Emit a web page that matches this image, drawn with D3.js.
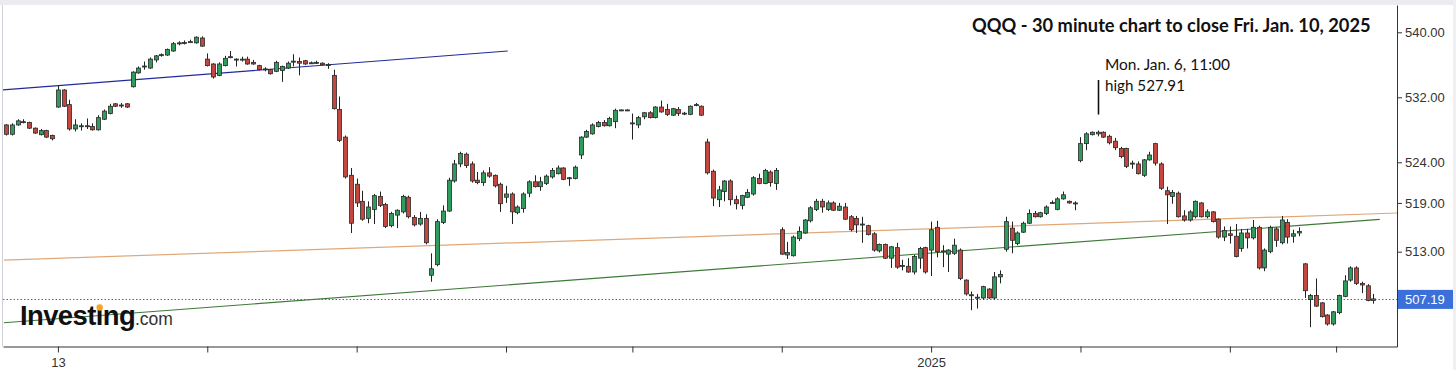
<!DOCTYPE html>
<html><head><meta charset="utf-8">
<script src="https://cdn.jsdelivr.net/npm/d3@7"></script>
<style>body{margin:0;background:#fff;overflow:hidden} svg{display:block}</style>
</head><body><svg id="c" width="1456" height="370"></svg>
<script>
// ---- data: QQQ 30-minute candles (index = bar number) ----
const opens = [
528.6,527.45,528.6,529.0,528.9,528.2,527.4,527.9,527.3,
530.8,532.9,531.1,528.1,528.4,528.5,528.4,528.0,529.3,530.0,531.2,531.0,531.2,
533.3,535.0,535.8,535.6,536.6,537.2,537.2,537.7,538.6,538.7,538.8,538.7,539.3,
536.7,536.1,534.7,535.9,537.0,536.7,536.6,536.7,536.3,535.9,535.4,535.4,535.2,
535.3,535.6,536.4,536.4,536.5,536.2,536.2,536.2,536.0,534.7,530.5,527.1,522.4,
521.3,519.2,517.1,518.2,519.8,518.8,516.2,517.5,517.9,519.7,517.2,516.4,517.1,
510.1,511.4,516.6,518.0,521.7,523.8,525.0,523.8,521.8,521.5,522.7,522.4,521.3,
519.7,520.1,517.8,518.3,520.2,521.6,521.0,521.4,522.2,522.6,523.3,522.0,522.0,
524.9,527.1,527.5,528.4,528.9,528.5,529.0,530.4,530.4,
528.8,528.6,529.6,530.1,529.5,530.8,530.5,529.8,530.5,530.0,529.9,531.0,530.9,
526.5,522.9,519.4,520.4,521.7,519.4,518.7,519.7,520.1,522.0,521.4,522.8,521.4,
515.7,512.6,512.5,514.6,515.3,516.8,518.2,519.2,518.2,519.0,518.1,518.5,517.3,
517.1,516.3,516.2,515.2,513.1,513.9,512.2,513.5,511.2,511.2,510.5,512.2,513.5,
513.2,516.0,513.0,512.7,512.8,513.2,509.5,507.6,507.3,507.3,508.4,507.3,509.9,
513.3,515.9,514.0,515.4,516.5,517.7,517.3,517.7,519.0,518.2,519.5,519.2,518.9,
524.2,526.3,527.4,527.5,527.7,527.2,526.6,525.7,525.7,523.8,523.8,522.4,524.3,
526.3,523.8,520.5,519.8,520.2,517.4,516.9,517.3,519.0,517.3,517.9,517.0,514.8,
515.2,514.9,513.4,515.3,514.7,516.0,511.0,513.0,515.8,514.1,516.6,514.9,515.3,
511.5,507.1,507.6,506.7,505.2,504.1,505.5,507.5,509.5,511.0,509.1,508.8,507.0];
const highs = [
528.7,528.8,529.3,529.3,529.0,528.3,528.1,528.0,527.4,
533.4,533.0,531.7,529.3,528.8,529.4,528.8,529.8,530.5,531.2,531.3,531.3,531.3,
535.2,535.8,536.4,536.9,537.2,537.4,538.0,538.8,538.9,539.0,539.1,539.5,539.5,
537.4,536.2,536.3,537.1,537.7,536.8,537.0,537.0,536.6,536.0,535.7,535.5,536.5,
535.9,536.4,537.3,536.9,536.6,536.4,536.5,536.3,536.2,535.4,532.1,527.3,523.3,
522.0,520.5,519.2,520.1,520.4,519.0,517.9,518.2,520.0,519.9,517.5,517.9,517.6,
512.8,517.0,518.7,522.1,524.3,525.3,525.2,524.1,522.8,523.0,523.4,522.5,521.5,
521.1,520.3,518.7,520.3,521.8,522.4,522.2,522.5,523.3,523.6,523.4,522.2,523.6,
527.2,528.0,528.8,529.1,529.2,529.6,530.6,530.5,530.5,
530.0,529.7,530.2,530.3,530.9,531.6,531.2,530.7,530.8,530.2,531.0,531.3,531.0,
526.9,523.1,521.1,521.8,521.9,519.9,520.0,520.7,522.3,522.6,523.2,523.0,523.3,
516.0,514.2,515.0,516.1,517.0,518.6,519.5,519.5,519.3,519.2,519.0,519.0,517.5,
517.4,517.3,516.3,515.4,514.0,514.0,513.7,514.1,512.0,512.2,512.6,513.6,513.6,
516.7,516.8,513.8,513.3,514.6,513.4,509.6,508.1,507.8,508.8,508.5,510.5,510.7,
517.3,516.7,515.5,516.7,518.2,518.0,517.9,518.7,519.3,519.7,520.4,519.3,519.2,
527.1,527.7,527.8,527.91,527.8,527.4,527.0,525.9,525.8,524.2,524.1,524.4,525.3,
526.4,524.0,521.0,520.6,520.4,518.1,518.1,519.3,519.1,518.2,518.0,517.1,516.1,
516.1,516.4,515.8,515.8,516.9,516.2,513.4,516.2,516.0,517.4,517.0,515.7,516.0,
511.6,507.8,509.7,506.8,505.3,505.7,507.7,510.1,511.2,511.2,509.3,509.0,507.8];
const lows = [
527.3,527.3,528.5,528.8,528.1,527.5,527.3,527.0,526.7,
530.7,530.8,527.9,527.8,527.9,528.1,527.9,527.9,529.2,529.9,530.8,530.7,530.7,
533.2,534.9,535.4,535.5,536.3,537.0,537.1,537.6,538.4,538.5,538.8,538.6,538.2,
535.8,534.3,534.6,535.8,536.8,535.8,536.4,536.0,536.0,535.3,535.2,534.8,535.1,
533.9,535.5,535.8,534.7,536.0,536.1,536.1,535.9,535.5,530.5,526.5,522.0,515.3,
518.5,516.8,516.5,516.4,518.5,515.9,516.0,515.9,517.7,517.1,516.1,516.2,513.9,
509.3,511.2,516.4,517.9,521.5,523.4,523.3,521.5,521.3,521.1,522.1,520.9,517.9,
519.0,516.4,517.6,517.8,519.7,520.9,520.5,521.2,522.0,522.5,521.8,521.1,521.9,
524.4,527.0,527.4,528.3,528.4,528.4,528.2,530.3,530.3,
526.8,528.2,529.3,529.4,529.4,530.1,529.7,529.7,529.7,529.8,529.8,530.9,529.7,
522.5,518.6,518.5,519.2,518.7,518.2,518.2,519.6,519.9,521.3,521.3,521.0,520.6,
512.6,512.1,512.4,514.3,515.2,516.6,518.0,517.8,518.0,518.0,518.0,516.9,515.5,
515.3,514.1,515.0,513.0,512.9,512.1,511.0,510.9,510.7,510.4,510.2,510.9,510.3,
510.0,512.3,511.1,510.5,512.6,509.5,507.6,505.8,506.0,507.1,507.2,507.1,509.1,
513.0,512.8,513.8,515.3,516.4,517.2,517.2,517.5,518.9,518.1,519.4,518.9,518.1,
524.0,525.5,527.3,527.2,527.0,526.2,525.5,524.5,523.3,523.2,522.5,522.2,524.2,
523.6,520.6,516.4,518.9,517.2,516.7,516.7,517.1,517.2,517.1,516.6,514.6,514.3,
514.0,512.3,513.0,513.4,514.5,510.8,510.6,512.8,513.6,513.9,514.0,514.1,514.9,
507.3,503.7,506.2,504.9,503.9,503.9,505.3,507.4,509.3,508.9,507.9,506.9,506.6];
const closes = [
527.45,528.6,529.1,528.95,528.2,527.6,527.9,527.1,526.9,
532.9,530.9,528.1,528.6,528.5,528.4,528.0,529.5,530.3,530.9,530.9,531.05,530.8,
535.1,535.6,535.85,536.7,537.1,537.25,537.9,538.6,538.7,538.75,538.85,539.4,538.3,
535.9,534.5,536.1,536.8,536.9,536.65,536.7,536.1,536.1,535.4,535.5,534.9,536.3,
535.8,536.2,536.45,536.2,536.1,536.25,536.3,536.0,536.05,530.6,526.7,522.2,516.5,
519.0,517.0,518.5,519.9,518.7,516.1,517.7,518.1,519.8,517.3,516.3,517.1,514.1,
510.9,516.7,518.0,521.8,523.8,525.1,523.6,521.7,521.5,522.7,522.3,521.1,518.9,
520.1,517.9,518.5,520.1,521.6,521.0,521.6,522.3,523.0,523.3,521.9,522.1,523.4,
527.1,527.8,528.6,528.9,528.5,529.4,530.4,530.45,530.45,
528.85,529.5,530.1,529.5,530.8,530.2,529.9,530.6,530.0,530.05,530.9,531.1,529.8,
522.7,519.6,520.6,521.7,519.4,518.9,519.9,520.3,522.1,521.4,523.0,521.5,523.0,
512.7,512.9,514.8,515.5,516.9,518.4,519.2,518.5,519.0,518.1,518.6,517.0,515.7,
516.3,516.4,515.1,513.2,513.9,512.2,513.6,511.1,511.3,510.5,512.4,513.4,510.5,
515.7,513.0,513.1,513.2,513.8,509.7,507.8,507.7,507.4,508.7,507.3,509.9,510.2,
516.7,514.4,515.3,516.5,517.7,517.3,517.8,518.5,519.05,519.5,520.0,519.0,519.0,
526.3,527.5,527.7,527.7,527.1,526.4,525.8,524.7,523.5,523.9,522.6,524.3,524.9,
523.9,520.8,520.0,520.3,517.3,516.9,517.9,519.2,517.3,517.9,516.7,514.8,515.6,
515.0,512.4,515.3,514.7,516.0,511.0,513.2,516.0,514.4,516.9,514.8,515.2,515.5,
508.2,507.6,506.3,505.0,504.1,505.6,507.6,509.4,511.0,509.1,508.9,507.0,507.19];

const yTicks = [540, 532, 524, 519, 513];
const xTickIdx = [9, 35, 61, 87, 109, 135, 161, 187, 213, 231.5];
const xTickText = ["13", "", "", "", "", "", "2025", "", "", ""];
const lastPrice = 507.19;
const blueLine = [[-0.9, 532.9], [87.3, 537.7]];
const orangeLine = [[-0.4, 511.97], [242.1, 517.76]];
const greenLine = [[-0.4, 504.26], [239.1, 516.98]];
const titleText = "QQQ - 30 minute chart to close Fri. Jan. 10, 2025";
const noteLines = ["Mon. Jan. 6, 11:00", "high 527.91"];
const noteIdx = 190, noteHigh = 527.91;

// ---- drawing ----
const svg = d3.select("#c");
const L = 3, R = 1397, T = 5, B = 346.5;
const x = d3.scaleLinear().domain([-0.56, 242.1]).range([L, R]);
const y = d3.scaleLinear().domain([501.33, 543.36]).range([B, T]);

svg.append("rect").attr("width", 1456).attr("height", 370).attr("fill", "#fff");
svg.append("rect").attr("x", 0).attr("y", 0).attr("width", 1456).attr("height", 5).attr("fill", "#ebebf0");
svg.append("rect").attr("x", 1453).attr("y", 0).attr("width", 3).attr("height", 370).attr("fill", "#f0f0f3");
svg.append("line").attr("x1", L - 0.5).attr("x2", L - 0.5).attr("y1", T).attr("y2", B).attr("stroke", "#d0d0d8");

const clip = svg.append("clipPath").attr("id", "pc").append("rect")
  .attr("x", L).attr("y", T).attr("width", R - L).attr("height", B - T);
const plot = svg.append("g").attr("clip-path", "url(#pc)");

// trend lines
function tline(pts, color, w) {
  plot.append("line")
    .attr("x1", x(pts[0][0])).attr("y1", y(pts[0][1]))
    .attr("x2", x(pts[1][0])).attr("y2", y(pts[1][1]))
    .attr("stroke", color).attr("stroke-width", w);
}
tline(orangeLine, "#e0a878", 1.2);
tline(greenLine, "#3f7a3a", 1.1);
tline(blueLine, "#1f2a9a", 1.2);

// last price dotted line
plot.append("line").attr("x1", L).attr("x2", R)
  .attr("y1", Math.round(y(lastPrice)) + 0.5).attr("y2", Math.round(y(lastPrice)) + 0.5)
  .attr("stroke", "#3a66d8").attr("stroke-width", 1).attr("stroke-dasharray", "1.5,2");

// candles
const idx = d3.range(opens.length);
const cg = plot.append("g");
cg.selectAll("line.w").data(idx).join("line")
  .attr("x1", i => Math.round(x(i)) + 0.5).attr("x2", i => Math.round(x(i)) + 0.5)
  .attr("y1", i => y(highs[i])).attr("y2", i => y(lows[i]))
  .attr("stroke", "#222").attr("stroke-width", 1);
cg.selectAll("rect.b").data(idx).join("rect")
  .attr("x", i => Math.round(x(i)) - 1.5)
  .attr("width", 4)
  .attr("y", i => y(Math.max(opens[i], closes[i])))
  .attr("height", i => Math.max(1, Math.abs(y(opens[i]) - y(closes[i]))))
  .attr("fill", i => closes[i] >= opens[i] ? "#2f9b5c" : "#c4473f")
  .attr("stroke", "#2a2a2a").attr("stroke-width", 0.8);

// y axis
const yAxis = svg.append("g").attr("transform", `translate(${R},0)`)
  .call(d3.axisRight(y).tickValues(yTicks).tickFormat(d3.format(".2f")).tickSize(5).tickSizeOuter(0));
yAxis.select(".domain").attr("stroke", "#333");
yAxis.selectAll(".tick line").attr("stroke", "#333");
yAxis.selectAll(".tick text").attr("x", 8).attr("font-family", "Liberation Sans, Arial, sans-serif")
  .attr("font-size", 13).attr("fill", "#333");

// last price badge
const ly = y(lastPrice);
svg.append("rect").attr("x", R + 1).attr("y", ly - 9).attr("width", 55).attr("height", 19).attr("fill", "#3b6fd9");
svg.append("text").attr("x", R + 8).attr("y", ly + 5).attr("fill", "#fff")
  .attr("font-family", "Liberation Sans, Arial, sans-serif").attr("font-size", 13).text(d3.format(".2f")(lastPrice));

// x axis
const xAxis = svg.append("g").attr("transform", `translate(0,${B})`)
  .call(d3.axisBottom(x).tickValues(xTickIdx).tickFormat((d, k) => xTickText[k]).tickSize(6).tickSizeOuter(0));
xAxis.select(".domain").attr("stroke", "#333");
xAxis.selectAll(".tick line").attr("stroke", "#333");
xAxis.selectAll(".tick text").attr("y", 11).attr("font-family", "Liberation Sans Narrow, Liberation Sans, Arial, sans-serif")
  .attr("font-size", 13).attr("fill", "#333");

// fit helper
function fit(sel, w) {
  const cur = +sel.attr("font-size");
  const tw = sel.node().getComputedTextLength();
  sel.attr("font-size", cur * w / tw);
}

// title
const title = svg.append("text").attr("x", 972).attr("y", 32)
  .attr("font-family", "Lato, Open Sans, sans-serif").attr("font-weight", 700)
  .attr("font-size", 17).attr("fill", "#111").text(titleText);
fit(title, 399);

// annotation
const nx = Math.round(x(noteIdx)) + 0.5;
svg.append("line").attr("x1", nx).attr("x2", nx).attr("y1", 80).attr("y2", y(noteHigh) - 16)
  .attr("stroke", "#111").attr("stroke-width", 1.6);
const n1 = svg.append("text").attr("x", 1105).attr("y", 70).attr("font-family", "Lato, Open Sans, sans-serif")
  .attr("font-size", 15).attr("fill", "#111").text(noteLines[0]);
fit(n1, 125);
const n2 = svg.append("text").attr("x", 1105).attr("y", 91).attr("font-family", "Lato, Open Sans, sans-serif")
  .attr("font-size", 15).attr("fill", "#111").text(noteLines[1]);
fit(n2, 80);

// Investing.com logo
const logo = svg.append("text").attr("x", 20).attr("y", 325)
  .attr("font-family", "Liberation Sans, Arial, sans-serif").attr("font-weight", 700)
  .attr("font-size", 27).attr("fill", "#111").attr("letter-spacing", -0.6).text("Investing");
fit(logo, 115);
const com = svg.append("text").attr("x", 135).attr("y", 325)
  .attr("font-family", "Liberation Sans, Arial, sans-serif")
  .attr("font-size", 20).attr("fill", "#333").text(".com");
fit(com, 38);
const ip = logo.node().getStartPositionOfChar(6);
const ie = logo.node().getEndPositionOfChar(6);
svg.append("circle").attr("cx", (ip.x + ie.x) / 2 + 0.5).attr("cy", 307.5).attr("r", 3.2).attr("fill", "#f5a623");
</script></body></html>
